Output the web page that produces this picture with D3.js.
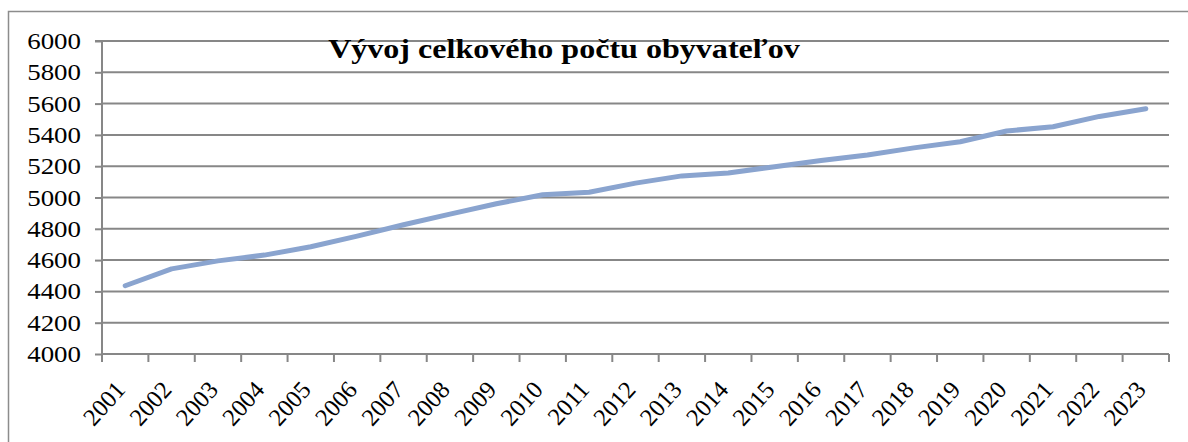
<!DOCTYPE html>
<html><head><meta charset="utf-8">
<script src="https://cdn.jsdelivr.net/npm/d3@7"></script>
<style>body{margin:0;background:#fff}svg{display:block}</style>
</head><body>
<svg id="c" width="1188" height="442"></svg>
<script>
const title = "Vývoj celkového počtu obyvateľov";
const years = ["2001","2002","2003","2004","2005","2006","2007","2008","2009","2010","2011","2012","2013","2014","2015","2016","2017","2018","2019","2020","2021","2022","2023"];
const population = [4436,4544,4595,4632,4685,4753,4826,4894,4960,5018,5034,5092,5138,5157,5197,5236,5272,5317,5356,5425,5452,5518,5567];
const yTicks = [4000,4200,4400,4600,4800,5000,5200,5400,5600,5800,6000];

const svg = d3.select("#c");
const L = 102, R = 1169, T = 41, B = 354;
const SX = 1.17;
const FONT = "'Liberation Serif', Tinos, 'Times New Roman', Times, serif";
const x = d3.scaleBand().domain(years).range([L, R]);
const y = d3.scaleLinear().domain([4000, 6000]).range([B, T]);
const grid = "#878787";

svg.append("rect").attr("x", 8.5).attr("y", 11.5).attr("width", 1200).attr("height", 500)
  .attr("fill", "none").attr("stroke", "#8c8c8c").attr("stroke-width", 1.5);

svg.append("g").selectAll("line").data(yTicks.slice(1)).join("line")
  .attr("x1", L).attr("x2", R).attr("y1", d => y(d)).attr("y2", d => y(d))
  .attr("stroke", grid).attr("stroke-width", 2);

const ya = svg.append("g").attr("transform", `translate(${L},0)`)
  .call(d3.axisLeft(y).tickValues(yTicks).tickSize(7).tickFormat(d => d));
ya.attr("font-family", null).attr("font-size", null);
ya.select(".domain").attr("stroke", grid).attr("stroke-width", 2).attr("d", `M-7,${T}H0V${B}`);
ya.selectAll(".tick line").attr("stroke", grid).attr("stroke-width", 2);
ya.selectAll(".tick text").remove();
ya.selectAll(".tick").append("text")
  .attr("transform", `translate(-21,0) scale(${SX},1)`)
  .attr("text-anchor", "end").attr("dy", "0.33em")
  .style("font-family", FONT).style("font-size", "23px").attr("fill", "#000")
  .text(d => d);

const xa = svg.append("g").attr("transform", `translate(0,${B})`)
  .call(d3.axisBottom(x).tickSize(0).tickFormat(""));
xa.attr("font-family", null).attr("font-size", null);
xa.select(".domain").attr("stroke", grid).attr("stroke-width", 2).attr("d", `M${L},0H${R}`);
const bounds = x.domain().map(d => x(d)).concat([R]);
xa.append("g").selectAll("line").data(bounds).join("line")
  .attr("x1", d => d).attr("x2", d => d).attr("y1", 0).attr("y2", 8)
  .attr("stroke", grid).attr("stroke-width", 2);
xa.append("g").selectAll("text").data(years).join("text")
  .attr("transform", d => `translate(${x(d) + x.bandwidth()/2 - 5},31) rotate(-48)`)
  .attr("text-anchor", "end").attr("dy", "0.35em")
  .style("font-family", FONT).style("font-size", "24.5px").attr("fill", "#000")
  .text(d => d);

const line = d3.line().x((d, i) => x(years[i]) + x.bandwidth()/2).y(d => y(d));
svg.append("path").datum(population).attr("d", line)
  .attr("fill", "none").attr("stroke", "#8aa4cf").attr("stroke-width", 5)
  .attr("stroke-linejoin", "round").attr("stroke-linecap", "round");

svg.append("text").attr("transform", `translate(564,58) scale(${SX},1)`)
  .attr("text-anchor", "middle").style("font-family", FONT)
  .style("font-weight", "bold").style("font-size", "27.4px").attr("fill", "#000")
  .text(title);
</script>
</body></html>
